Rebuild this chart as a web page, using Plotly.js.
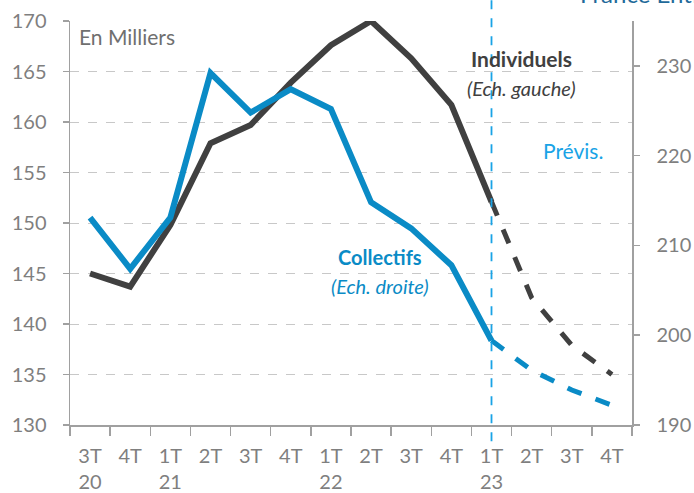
<!DOCTYPE html>
<html>
<head>
<meta charset="utf-8">
<script src="https://cdn.plot.ly/plotly-3.0.1.min.js"></script>
<style>html,body{margin:0;padding:0;background:#fff;}#chart{width:694px;height:493px;}</style>
</head>
<body>
<div id="chart"></div>
<script>
// Quarter labels (top line) and year labels (second line)
const quarters = ["3T","4T","1T","2T","3T","4T","1T","2T","3T","4T","1T","2T","3T","4T"];
const years    = ["20","","21","","","","22","","","","23","","",""];
// Individuels (left scale, thousands)
const individuels = [145.0, 143.7, 149.8, 157.9, 159.7, 163.9, 167.6, 170.0, 166.3, 161.7, 152.1, 142.6, 137.9, 135.0];
// Collectifs (right scale, thousands)
const collectifs  = [213.1, 207.4, 213.1, 229.2, 224.8, 227.4, 225.2, 214.8, 211.9, 207.8, 199.4, 196.1, 193.9, 192.2];
// Index of the last observed quarter (1T 23); forecast follows
const lastObserved = 10;
const leftTicks = [130,135,140,145,150,155,160,165,170];
const rightTicks = [190,200,210,220,230];

const idx = quarters.map((q,i)=>i);
const ticktext = quarters.map((q,i)=> years[i] ? q + "<br>" + years[i] : q + "<br> ");
const darkCol = "#404040", blueCol = "#0a8bc6", lineBlue = "#19a3e6";
const fontFam = "Lato, 'Open Sans', sans-serif";

const obsX = idx.slice(0, lastObserved+1), fcX = idx.slice(lastObserved);
const traces = [
  {x: obsX, y: individuels.slice(0,lastObserved+1), type:"scatter", mode:"lines", line:{color:darkCol,width:6}, yaxis:"y", hoverinfo:"skip"},
  {x: fcX, y: individuels.slice(lastObserved), type:"scatter", mode:"lines", line:{color:darkCol,width:5,dash:"dash"}, yaxis:"y", hoverinfo:"skip"},
  {x: obsX, y: collectifs.slice(0,lastObserved+1), type:"scatter", mode:"lines", line:{color:blueCol,width:6}, yaxis:"y2", hoverinfo:"skip"},
  {x: fcX, y: collectifs.slice(lastObserved), type:"scatter", mode:"lines", line:{color:blueCol,width:5,dash:"dash"}, yaxis:"y2", hoverinfo:"skip"}
];

const axisCol = "#a0a0a0", tickCol = "#7f7f7f";
const layout = {
  width:694, height:493,
  margin:{l:70, r:62, t:21, b:68},
  paper_bgcolor:"#fff", plot_bgcolor:"#fff",
  showlegend:false,
  font:{family:fontFam, color:tickCol, size:20},
  xaxis:{
    range:[-0.5,13.5], tickmode:"array", tickvals:idx, ticktext:ticktext,
    ticks:"", showgrid:false, zeroline:false,
    showline:true, linecolor:axisCol, linewidth:1.5,
    tickfont:{size:20, color:tickCol, family:fontFam},
    ticklabelstandoff:12,
    minor:{tick0:-0.5, dtick:1, ticks:"outside", ticklen:9, tickcolor:axisCol, tickwidth:1.5, showgrid:false}
  },
  yaxis:{
    range:[130,170], tickmode:"array", tickvals:leftTicks,
    ticks:"outside", ticklen:6, tickcolor:axisCol, tickwidth:1.5,
    showline:true, linecolor:axisCol, linewidth:1.5,
    showgrid:true, gridcolor:"#c8c8c8", griddash:"dash", gridwidth:1,
    zeroline:false, tickfont:{size:20,color:tickCol,family:fontFam},
    ticklabelstandoff:12
  },
  yaxis2:{
    range:[190,235], overlaying:"y", side:"right", tickmode:"array", tickvals:rightTicks,
    ticks:"outside", ticklen:6, tickcolor:axisCol, tickwidth:1.5,
    showline:true, linecolor:axisCol, linewidth:1.5,
    showgrid:false, zeroline:false, tickfont:{size:20,color:tickCol,family:fontFam},
    ticklabelstandoff:13
  },
  shapes:[
    {type:"line", xref:"x", yref:"paper", x0:lastObserved, x1:lastObserved, y0:-0.04, y1:1.06, line:{color:lineBlue, width:1.8, dash:"dash"}}
  ],
  annotations:[
    {xref:"paper", yref:"paper", x:0.012, y:0.998, xanchor:"left", yanchor:"top", text:"En Milliers", showarrow:false, font:{size:21,color:"#6f6f6f",family:fontFam}},
    {xref:"x", yref:"y", x:10.74, y:166.3, text:"<b>Individuels</b>", showarrow:false, font:{size:21,color:darkCol,family:fontFam}},
    {xref:"x", yref:"y", x:10.74, y:163.4, text:"<i>(Ech. gauche)</i>", showarrow:false, font:{size:20,color:darkCol,family:fontFam}},
    {xref:"x", yref:"y", x:12.03, y:157.2, text:"Prévis.", showarrow:false, font:{size:21,color:lineBlue,family:fontFam}},
    {xref:"x", yref:"y", x:7.22, y:146.6, text:"<b>Collectifs</b>", showarrow:false, font:{size:20,color:blueCol,family:fontFam}},
    {xref:"x", yref:"y", x:7.22, y:143.8, text:"<i>(Ech. droite)</i>", showarrow:false, font:{size:20,color:blueCol,family:fontFam}},
    {xref:"paper", yref:"paper", x:0.904, y:1.027, xanchor:"left", yanchor:"bottom", text:"France Entière", showarrow:false, font:{size:24,color:"#1f6a9a",family:fontFam}}
  ]
};
Plotly.newPlot("chart", traces, layout, {staticPlot:true, displayModeBar:false});
</script>
</body>
</html>
